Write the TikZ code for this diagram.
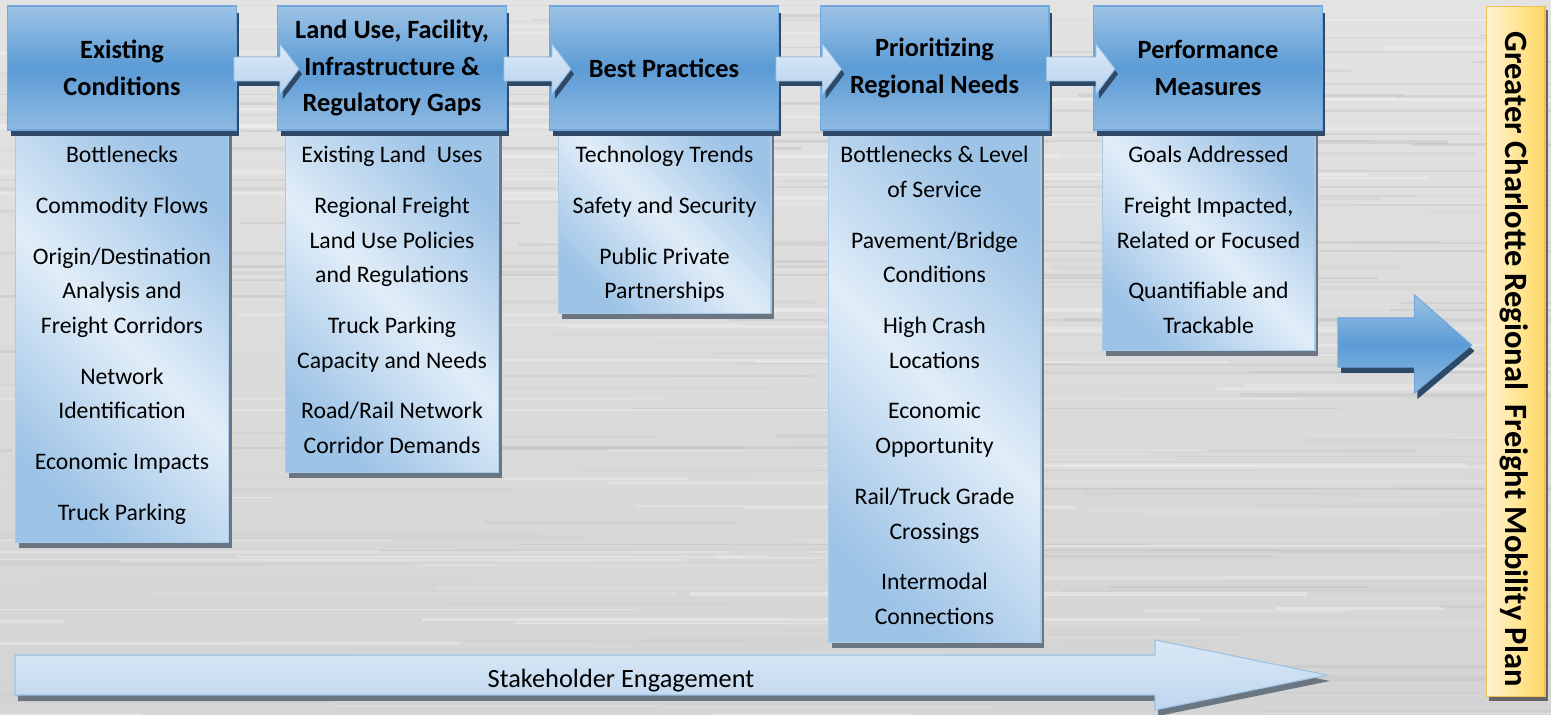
\documentclass[tikz,border=0pt]{standalone}
\usepackage{fontspec}
\setmainfont{Carlito}
\usetikzlibrary{calc,shadows}

\definecolor{bgbase}{HTML}{D8D8D8}
\definecolor{hdrtop}{HTML}{9DC3E6}
\definecolor{hdrmid}{HTML}{5B9BD5}
\definecolor{hdrbot}{HTML}{8FBAE3}
\definecolor{hdrline}{HTML}{72A9DD}
\definecolor{hdrshadow}{HTML}{2E4A68}
\definecolor{lstblue}{HTML}{9DC3E6}
\definecolor{lstpale}{HTML}{E1EDF8}
\definecolor{lstline}{HTML}{A8CBEA}
\definecolor{lstshadow}{HTML}{6B7682}
\definecolor{linktop}{HTML}{DDEBF7}
\definecolor{linkbot}{HTML}{B5D2EE}
\definecolor{linkline}{HTML}{9DC3E6}
\definecolor{engtop}{HTML}{DAE8F6}
\definecolor{engbot}{HTML}{BFD6EE}
\definecolor{planpale}{HTML}{FFF4D2}
\definecolor{plangold}{HTML}{FFD862}
\definecolor{planline}{HTML}{F0C050}

\tikzset{
  header/.style={draw=hdrline, line width=0.6pt,
    top color=hdrtop, bottom color=hdrbot, middle color=hdrmid,
    minimum width=4.58cm, minimum height=2.48cm, align=center,
    font=\fontsize{15}{21}\selectfont\bfseries,
    drop shadow={shadow xshift=0.06cm, shadow yshift=-0.13cm, fill=hdrshadow, opacity=1}},
  listbox/.style={draw=lstline, line width=0.6pt,
    top color=lstblue, bottom color=lstblue, middle color=lstpale, shading angle=-45,
    minimum width=4.26cm, anchor=north, inner sep=0pt,
    drop shadow={shadow xshift=0.07cm, shadow yshift=-0.11cm, fill=lstshadow, opacity=1}},
  listtext/.style={anchor=north, align=center, inner sep=0pt,
    font=\fontsize{13.5}{19.8}\selectfont},
  link/.style={draw=linkline, line width=0.5pt, top color=linktop, bottom color=linkbot,
    drop shadow={shadow xshift=0.06cm, shadow yshift=-0.1cm, fill=hdrshadow, opacity=1}},
}

\begin{document}
\begin{tikzpicture}[x=0.02cm, y=-0.02cm]

\useasboundingbox (0,0) rectangle (1551,715);
\clip (0,0) rectangle (1551,715);

%% brushed metal backdrop
\fill[top color=gray!22, bottom color=gray!34] (0,0) rectangle (1551,715);
\pgfmathsetseed{42}
\foreach \i in {1,...,340}{
  \pgfmathsetmacro\yy{rnd*715}
  \pgfmathsetmacro\xx{rnd*1751-200}
  \pgfmathsetmacro\ll{150+rnd*700}
  \pgfmathsetmacro\tone{8+rnd*42}
  \pgfmathsetmacro\lw{0.4+rnd*1.8}
  \draw[gray!\tone, line width=\lw pt, opacity=0.45] (\xx,\yy) -- ++(\ll,0);
}

%% detail columns (drawn first, headers sit on top)
\node[listbox, minimum height=8.24cm] (d1) at (122,130)   {};
\node[listbox, minimum height=6.84cm] (d2) at (392,130)   {};
\node[listbox, minimum height=3.66cm] (d3) at (664.5,130) {};
\node[listbox, minimum height=10.24cm] (d4) at (934.5,130) {};
\node[listbox, minimum height=4.40cm] (d5) at (1208.5,130) {};

\node[listtext] (l1) at (122,146) {Bottlenecks\\[9pt]Commodity Flows\\[9pt]Origin/Destination\\
  Analysis and\\Freight Corridors\\[9pt]Network\\Identification\\[9pt]Economic Impacts\\[9pt]Truck Parking};
\node[listtext] (l2) at (392,146) {Existing Land\ \ Uses\\[9pt]Regional Freight\\Land Use Policies\\
  and Regulations\\[9pt]Truck Parking\\Capacity and Needs\\[9pt]Road/Rail Network\\Corridor Demands};
\node[listtext] (l3) at (664.5,146) {Technology Trends\\[9pt]Safety and Security\\[9pt]Public Private\\Partnerships};
\node[listtext] (l4) at (934.5,146) {Bottlenecks \& Level\\of Service\\[9pt]Pavement/Bridge\\Conditions\\[9pt]
  High Crash\\Locations\\[9pt]Economic\\Opportunity\\[9pt]Rail/Truck Grade\\Crossings\\[9pt]Intermodal\\Connections};
\node[listtext] (l5) at (1208.5,146) {Goals Addressed\\[9pt]Freight Impacted,\\Related or Focused\\[9pt]
  Quantifiable and\\Trackable};

%% step headers
\node[header] (h1) at (122,68)    {Existing\\Conditions};
\node[header] (h2) at (392,68)    {Land Use, Facility,\\Infrastructure \&\\Regulatory Gaps};
\node[header] (h3) at (664,68)    {Best Practices};
\node[header] (h4) at (934.5,68)  {Prioritizing\\Regional Needs};
\node[header] (h5) at (1208,68)   {Performance\\Measures};

%% block arrows between the steps
\foreach \a/\b in {h1/h2, h2/h3, h3/h4, h4/h5}{
  \filldraw[link] ($(\a.east)+(-3,-11)$) -- ($(\b.west)+(3,-11)$) -- ($(\b.west)+(3,-24)$)
    -- ($(\b.west)+(22,1)$) -- ($(\b.west)+(3,26)$) -- ($(\b.west)+(3,13)$)
    -- ($(\a.east)+(-3,13)$) -- cycle;
}

%% final plan bar
\node[draw=planline, line width=0.6pt, left color=planpale, right color=plangold,
      minimum width=1.18cm, minimum height=13.82cm,
      drop shadow={shadow xshift=0.06cm, shadow yshift=-0.08cm, fill=gray!80!black, opacity=1}]
  (plan) at (1515.5,351.5) {};
\node[rotate=-90, font=\fontsize{18.5}{22}\selectfont\bfseries, inner sep=0pt]
  (plantext) at (1514,359) {Greater Charlotte Regional\ \ Freight Mobility Plan};

%% big arrow into the plan
\coordinate (feed) at (1338,342.5);
\filldraw[draw=hdrline, line width=0.6pt, top color=hdrtop, bottom color=hdrbot, middle color=hdrmid,
          drop shadow={shadow xshift=0.06cm, shadow yshift=-0.12cm, fill=hdrshadow, opacity=1}]
  ($(feed)+(0,-24.5)$) -- ($(plan.west)+(-71,-33.5)$) -- ($(plan.west)+(-71,-56.5)$)
  -- ($(plan.west)+(-14,-6.5)$) -- ($(plan.west)+(-71,41.5)$) -- ($(plan.west)+(-71,15.5)$)
  -- ($(feed)+(0,24.5)$) -- cycle;

%% stakeholder engagement arrow
\filldraw[draw=linkline, line width=0.6pt, top color=engtop, bottom color=engbot,
          drop shadow={shadow xshift=0.06cm, shadow yshift=-0.12cm, fill=lstshadow, opacity=1}]
  (15,655) -- (1155,655) -- (1155,640) -- (1327,675) -- (1155,710) -- (1155,695) -- (15,695) -- cycle;
\node[font=\fontsize{15}{18}\selectfont] (engage) at (621,681) {Stakeholder Engagement};

\end{tikzpicture}
\end{document}
